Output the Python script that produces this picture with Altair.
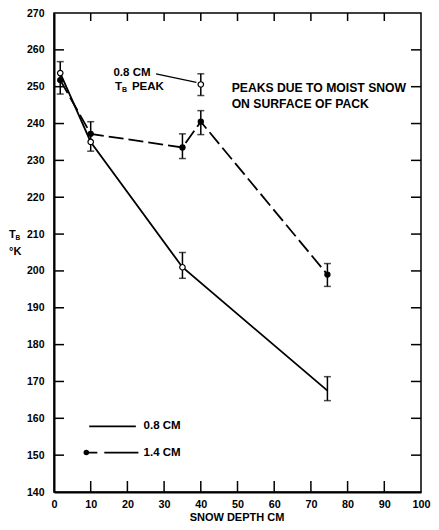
import altair as alt
import pandas as pd

# ---- data ----
depth_08 = [1.7, 10, 35, 74.5]
tb_08 = [253.7, 235.0, 201.0, 167.5]
pts_08_x = [1.7, 10, 35, 40]
pts_08_y = [253.7, 235.0, 201.0, 250.6]

depth_14 = [1.7, 10, 35, 40, 74.5]
tb_14 = [251.8, 237.2, 233.5, 240.5, 199.0]

# error bars (x, low, high)
err_x = [1.7, 10, 35, 40, 35, 40, 74.5, 74.5]
err_lo = [248.0, 232.5, 230.5, 237.0, 198.0, 247.6, 195.8, 164.8]
err_hi = [256.8, 240.5, 237.2, 243.5, 205.0, 253.5, 202.0, 171.3]

x_ticks = [0, 10, 20, 30, 40, 50, 60, 70, 80, 90, 100]
y_ticks = [140, 150, 160, 170, 180, 190, 200, 210, 220, 230, 240, 250, 260, 270]
inner_x = x_ticks[1:-1]
inner_y = y_ticks[1:-1]

W, H = 367, 479
FONT = "Liberation Sans"
FS = 11.5

xs = alt.Scale(domain=[0, 100], nice=False, zero=False)
ys = alt.Scale(domain=[140, 270], nice=False, zero=False)

XAX = alt.Axis(values=x_ticks, title=None, tickSize=0, labelPadding=6,
               domain=True, domainWidth=2, domainColor="black", grid=False,
               labelOverlap=False, labelFont=FONT, labelFontSize=10.8,
               labelFontWeight="bold", labelColor="black", labelFlush=False)
YAX = alt.Axis(values=y_ticks, title=None, tickSize=0, labelPadding=10,
               domain=True, domainWidth=2, domainColor="black", grid=False,
               labelOverlap=False, labelFont=FONT, labelFontSize=10.5,
               labelFontWeight="bold", labelColor="black", labelFlush=False)


def xe(f="x"):
    return alt.X(f + ":Q", scale=xs, axis=XAX)


def ye(f="y"):
    return alt.Y(f + ":Q", scale=ys, axis=YAX)


df08 = pd.DataFrame({"x": depth_08, "y": tb_08})
df08p = pd.DataFrame({"x": pts_08_x, "y": pts_08_y})
df14 = pd.DataFrame({"x": depth_14, "y": tb_14})
dferr = pd.DataFrame({"x": err_x, "lo": err_lo, "hi": err_hi})

line08 = alt.Chart(df08).mark_line(color="black", strokeWidth=1.8).encode(x=xe(), y=ye())
line14 = alt.Chart(df14).mark_line(color="black", strokeWidth=1.8,
                                   strokeDash=[15, 5]).encode(x=xe(), y=ye())

err_rule = alt.Chart(dferr).mark_rule(color="black", strokeWidth=1.5).encode(
    x=xe(), y=ye("lo"), y2="hi:Q")
cap_lo = alt.Chart(dferr).mark_tick(color="black", orient="horizontal", size=7,
                                    thickness=1.5).encode(x=xe(), y=ye("lo"))
cap_hi = alt.Chart(dferr).mark_tick(color="black", orient="horizontal", size=7,
                                    thickness=1.5).encode(x=xe(), y=ye("hi"))

pts14 = alt.Chart(df14).mark_point(filled=True, color="black", size=40,
                                   opacity=1).encode(x=xe(), y=ye())
pts08 = alt.Chart(df08p).mark_point(filled=True, fill="white", stroke="black",
                                    strokeWidth=1.2, size=30, opacity=1).encode(
    x=xe(), y=ye())

# inward frame ticks
tick_l = alt.Chart(pd.DataFrame({"y": inner_y})).mark_rule(color="black", strokeWidth=1.5).encode(
    y=ye(), x=alt.value(0), x2=alt.value(10))
tick_r = alt.Chart(pd.DataFrame({"y": inner_y})).mark_rule(color="black", strokeWidth=1.5).encode(
    y=ye(), x=alt.value(W), x2=alt.value(W - 10))
tick_b = alt.Chart(pd.DataFrame({"x": inner_x})).mark_rule(color="black", strokeWidth=1.5).encode(
    x=xe(), y=alt.value(H), y2=alt.value(H - 11))
tick_t = alt.Chart(pd.DataFrame({"x": inner_x})).mark_rule(color="black", strokeWidth=1.5).encode(
    x=xe(), y=alt.value(0), y2=alt.value(8))

# legend inside plot
leg_lines = pd.DataFrame({"x": [9.6, 8.8], "x2": [22.3, 23.0], "y": [157.8, 150.7],
                          "s": ["0.8 CM", "1.4 CM"], "tx": [24.4, 24.4]})
leg_solid = alt.Chart(leg_lines.iloc[[0]]).mark_rule(color="black", strokeWidth=1.8).encode(
    x=xe(), x2="x2:Q", y=ye())
leg_dash = alt.Chart(leg_lines.iloc[[1]]).mark_rule(color="black", strokeWidth=1.8,
                                                    strokeDash=[11, 7, 40, 0]).encode(
    x=xe(), x2="x2:Q", y=ye())
leg_dot = alt.Chart(leg_lines.iloc[[1]]).mark_point(filled=True, color="black", size=30,
                                                    opacity=1).encode(x=xe(), y=ye())
leg_text = alt.Chart(leg_lines).mark_text(align="left", baseline="middle", font=FONT,
                                          fontSize=FS, fontWeight="bold").encode(
    x=xe("tx"), y=ye(), text="s:N")

# annotations
ann = pd.DataFrame({"x": [16.2], "y": [253.6], "t": ["0.8 CM"]})
ann_text = alt.Chart(ann).mark_text(align="left", baseline="middle", font=FONT,
                                    fontSize=FS, fontWeight="bold").encode(
    x=xe(), y=ye(), text="t:N")
note = pd.DataFrame({"x": [48.4, 48.4], "y": [249.6, 245.4],
                     "t": ["PEAKS DUE TO MOIST SNOW", "ON SURFACE OF PACK"]})
note_text = alt.Chart(note).mark_text(align="left", baseline="middle", font=FONT,
                                      fontSize=12.2, fontWeight="bold").encode(
    x=xe(), y=ye(), text="t:N")
peak_lbl = pd.DataFrame({"x": [16.6], "y": [250.0]})
tb_T = alt.Chart(peak_lbl).mark_text(align="left", baseline="middle", font=FONT,
                                     fontSize=FS, fontWeight="bold").encode(
    x=xe(), y=ye(), text=alt.value("T"))
tb_B = alt.Chart(peak_lbl).mark_text(align="left", baseline="middle", font=FONT,
                                     fontSize=7, fontWeight="bold", dx=7, dy=3).encode(
    x=xe(), y=ye(), text=alt.value("B"))
tb_peak = alt.Chart(peak_lbl).mark_text(align="left", baseline="middle", font=FONT,
                                        fontSize=FS, fontWeight="bold", dx=17).encode(
    x=xe(), y=ye(), text=alt.value("PEAK"))
leader = alt.Chart(pd.DataFrame({"x": [27.8], "y": [253.5], "x2": [38.8], "y2": [251.2]})).mark_rule(
    color="black", strokeWidth=1.3).encode(x=xe(), y=ye(), x2="x2:Q", y2="y2:Q")

# axis titles
one = pd.DataFrame({"a": [0]})
xt = alt.Chart(one).mark_text(font=FONT, fontSize=11, fontWeight="bold",
                              align="center", baseline="alphabetic").encode(
    x=alt.value(183), y=alt.value(H + 29), text=alt.value("SNOW DEPTH CM"))
yt_T = alt.Chart(one).mark_text(font=FONT, fontSize=11, fontWeight="bold",
                                align="left", baseline="middle").encode(
    x=alt.value(-45), y=alt.value(222), text=alt.value("T"))
yt_B = alt.Chart(one).mark_text(font=FONT, fontSize=6.5, fontWeight="bold",
                                align="left", baseline="middle").encode(
    x=alt.value(-38.5), y=alt.value(225), text=alt.value("B"))
yt_K = alt.Chart(one).mark_text(font=FONT, fontSize=11, fontWeight="bold",
                                align="left", baseline="middle").encode(
    x=alt.value(-45), y=alt.value(239), text=alt.value("°K"))

chart = alt.layer(
    line08, line14, err_rule, cap_lo, cap_hi, pts14, pts08,
    tick_l, tick_r, tick_b, tick_t,
    leg_solid, leg_dash, leg_dot, leg_text,
    ann_text, note_text, tb_T, tb_B, tb_peak, leader,
    xt, yt_T, yt_B, yt_K,
).properties(
    width=W, height=H,
    autosize=alt.AutoSizeParams(type="none"),
    padding={"left": 46, "top": 5, "right": 10, "bottom": 30},
    background="white",
).configure_view(stroke="black", strokeWidth=1.5
).configure_axis(labelOverlap=False, labelFlush=False, labelBound=False)

chart.save("out.html", embed_options={"renderer": "svg", "actions": False})
